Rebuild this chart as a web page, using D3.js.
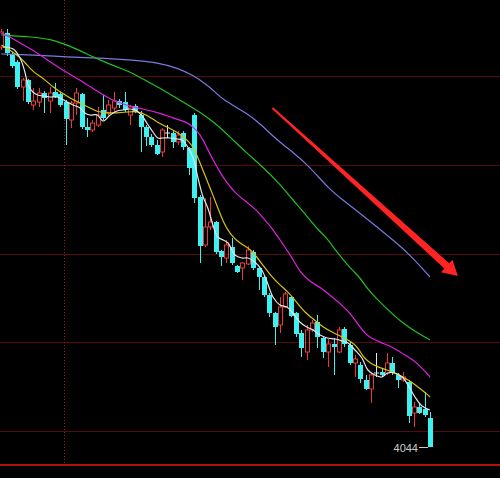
<!DOCTYPE html>
<html><head><meta charset="utf-8">
<script src="https://cdn.jsdelivr.net/npm/d3@7/dist/d3.min.js"></script>
<style>html,body{margin:0;padding:0;background:#000;}svg{display:block;}</style>
</head><body>
<svg id="c" width="500" height="478"></svg>
<script>
// ---- data (prices) ----
const opens  = [4444,4458,4437,4429,4404,4411,4386,4389,4398,4390,4399,4397,4389,4371,4388,4397,4364,4361,4366,4381,4378,4383,4390,4389,4376,4385,4376,4364,4354,4346,4339,4358,4358,4349,4358,4343,4376,4294,4246,4264,4269,4240,4233,4244,4225,4223,4227,4239,4223,4214,4196,4178,4166,4184,4194,4178,4158,4139,4161,4169,4153,4139,4147,4139,4162,4146,4128,4126,4111,4102,4118,4119,4118,4128,4116,4111,4109,4078,4084,4082,4073];
const closes = [4459,4438,4425,4404,4411,4389,4390,4398,4393,4398,4394,4386,4372,4388,4398,4364,4361,4368,4376,4373,4386,4390,4386,4381,4384,4379,4364,4354,4346,4337,4361,4358,4349,4356,4344,4323,4293,4245,4264,4269,4239,4234,4246,4228,4219,4228,4241,4223,4214,4196,4178,4164,4184,4197,4175,4157,4143,4161,4168,4154,4139,4147,4144,4161,4147,4128,4132,4112,4102,4116,4118,4116,4128,4118,4111,4114,4075,4084,4078,4076,4044];
const highs  = [4462,4462,4439,4431,4413,4412,4403,4403,4400,4404,4408,4399,4391,4390,4403,4398,4373,4371,4384,4396,4391,4399,4392,4399,4386,4387,4380,4366,4357,4351,4363,4366,4360,4360,4360,4344,4378,4296,4293,4294,4270,4241,4251,4253,4226,4229,4245,4241,4225,4216,4198,4179,4194,4199,4195,4179,4161,4166,4171,4176,4154,4152,4153,4164,4164,4149,4136,4129,4116,4118,4138,4123,4138,4134,4118,4119,4111,4089,4088,4099,4079];
const lows   = [4441,4435,4423,4402,4390,4387,4381,4384,4378,4378,4393,4384,4346,4363,4376,4362,4354,4359,4364,4371,4376,4379,4383,4379,4366,4378,4339,4345,4344,4336,4334,4353,4343,4346,4341,4316,4288,4228,4244,4261,4237,4225,4228,4226,4218,4211,4226,4221,4201,4194,4174,4146,4158,4183,4174,4154,4134,4131,4159,4143,4133,4124,4116,4138,4144,4126,4114,4108,4101,4088,4114,4114,4116,4116,4103,4109,4068,4064,4077,4074,4044];

// moving averages: [bar index, price]
const ma5 = [[0.3,4444],[2.2,4442],[3.5,4433],[4.4,4419],[5.0,4406],[5.9,4399],[6.8,4396],[7.8,4395],[9.1,4394],[10.4,4394],[11.3,4392],[12.3,4389],[13.4,4386],[14.7,4383],[15.6,4378],[16.5,4376],[17.9,4376],[19.0,4370],[20.3,4376],[21.6,4380],[22.7,4381],[24.0,4382],[25.3,4380],[26.4,4374],[27.4,4366],[28.3,4359],[29.2,4353],[30.2,4353],[31.5,4353],[32.8,4352],[33.7,4351],[34.8,4344],[35.8,4333],[36.7,4313],[37.6,4295],[38.6,4282],[39.5,4266],[40.4,4254],[41.4,4251],[42.3,4248],[43.6,4236],[44.9,4233],[46.0,4233],[47.3,4229],[48.6,4221],[49.6,4209],[50.7,4194],[52.0,4186],[53.3,4184],[54.4,4178],[55.7,4169],[57.0,4164],[58.2,4161],[59.5,4156],[60.8,4153],[62.3,4152],[63.6,4150],[64.7,4148],[66.0,4141],[67.3,4133],[68.4,4121],[69.7,4116],[71.0,4114],[72.1,4118],[73.4,4118],[74.8,4114],[75.9,4106],[77.2,4094],[78.5,4085],[80,4081]];
const ma10 = [[0,4446],[1.6,4441],[2.9,4436],[4.4,4429],[5.9,4419],[7.8,4413],[9.6,4404],[11.3,4398],[12.8,4393],[14.7,4388],[16.5,4383],[18,4379],[19.7,4378],[21.6,4378],[23.5,4379],[25.3,4380],[27.2,4376],[29,4369],[30.9,4364],[32.8,4359],[34.3,4353],[35.6,4346],[36.5,4336],[37.6,4321],[38.9,4304],[40.2,4286],[41.4,4269],[42.7,4257],[44,4250],[45.1,4246],[46.4,4242],[47.7,4234],[48.8,4226],[50.5,4214],[52,4206],[53.5,4199],[54.8,4191],[56.7,4178],[58.5,4171],[60,4164],[61.7,4159],[63.6,4154],[65.4,4149],[66.5,4144],[67.5,4134],[68.8,4128],[70.3,4124],[72,4121],[73.4,4118],[75,4114],[76.6,4109],[77.7,4104],[79,4099],[80,4094]];
const ma20 = [[0,4458],[1.6,4454],[3.5,4448],[5.9,4441],[9.1,4429],[12.3,4418],[14.7,4411],[18.4,4398],[20.3,4392],[22.1,4388],[24.6,4384],[27.2,4381],[29.6,4378],[32,4373],[34.6,4369],[35.8,4364],[37.1,4357],[38.4,4343],[39.5,4331],[40.8,4319],[42.1,4308],[44,4296],[45.8,4289],[47.7,4281],[49.6,4268],[50.5,4263],[52.4,4248],[54.2,4234],[55.7,4219],[57.6,4209],[59.8,4203],[61.7,4194],[63.6,4186],[65.4,4176],[66.9,4164],[68.4,4154],[71,4148],[73.4,4143],[75.9,4134],[77.7,4128],[80,4114]];
const ma60 = [[0,4456],[5.9,4454],[9.1,4452],[12.3,4446],[15.2,4439],[18.4,4431],[21.6,4424],[24.6,4418],[27.7,4408],[30.9,4399],[33.9,4389],[37.1,4379],[39.9,4368],[42.7,4354],[45.8,4338],[48.8,4324],[52,4307],[54.4,4291],[56.1,4281],[59.1,4261],[60.8,4253],[62.3,4241],[65.4,4221],[66.9,4214],[68.4,4201],[71.6,4184],[74.8,4168],[77.7,4158],[80,4151]];
const ma120 = [[0,4437],[5.9,4436],[12.3,4434],[18.4,4433],[24.6,4431],[29.6,4428],[32.8,4423],[35.8,4416],[38.4,4406],[39.9,4399],[41.4,4391],[45.8,4378],[48.6,4366],[51.4,4351],[54.4,4339],[57.6,4324],[60.8,4304],[63.7,4291],[66.9,4278],[70.1,4264],[73.1,4251],[76.3,4236],[80,4214]];

const gridPrices = [4060, 4148.75, 4237.5, 4326.25, 4415];
const vGridIndex = [11.7];
const lowLabel = "4044";
const arrowFrom = [50.6, 4383];
const arrowTo = [85.2, 4215];

// ---- scales ----
const W = 500, H = 478;
const x = d3.scaleLinear().domain([0, 80]).range([1.3, 430]);
const y = d3.scaleLinear().domain([4026, 4491]).range([465, 0]);

const svg = d3.select("#c");
svg.append("rect").attr("width", W).attr("height", H).attr("fill", "#000");

// grid
svg.append("g").selectAll("line").data(gridPrices).join("line")
  .attr("x1", 0).attr("x2", W)
  .attr("y1", d => Math.round(y(d)) + 0.5).attr("y2", d => Math.round(y(d)) + 0.5)
  .attr("stroke", "#560b0b").attr("stroke-width", 1);
svg.append("g").selectAll("line").data(vGridIndex).join("line")
  .attr("x1", d => Math.round(x(d)) + 0.5).attr("x2", d => Math.round(x(d)) + 0.5)
  .attr("y1", 0).attr("y2", y(4026))
  .attr("stroke", "#8a2020").attr("stroke-width", 1).attr("stroke-dasharray", "1,2");
svg.append("line").attr("x1", 0).attr("x2", W)
  .attr("y1", y(4026)).attr("y2", y(4026))
  .attr("stroke", "#b01212").attr("stroke-width", 2);

// candles
const bars = opens.map((o, i) => ({ i, o, c: closes[i], h: highs[i], l: lows[i] }));
const UP = "#e83a3a", DOWN = "#3ef0f0", DOJI = "#e8e8e8";
const gC = svg.append("g");
bars.forEach(b => {
  const cx = Math.round(x(b.i)) + 0.5;
  const top = y(Math.max(b.o, b.c)), bot = y(Math.min(b.o, b.c));
  if (b.o === b.c) {
    gC.append("line").attr("x1", cx).attr("x2", cx).attr("y1", y(b.h)).attr("y2", y(b.l)).attr("stroke", DOJI);
    gC.append("line").attr("x1", cx - 2.5).attr("x2", cx + 2.5).attr("y1", top).attr("y2", top).attr("stroke", DOJI);
  } else if (b.c > b.o) {
    gC.append("line").attr("x1", cx).attr("x2", cx).attr("y1", y(b.h)).attr("y2", top).attr("stroke", UP);
    gC.append("line").attr("x1", cx).attr("x2", cx).attr("y1", bot).attr("y2", y(b.l)).attr("stroke", UP);
    gC.append("rect").attr("x", cx - 2).attr("y", top).attr("width", 4).attr("height", Math.max(1, bot - top))
      .attr("fill", "none").attr("stroke", UP).attr("stroke-width", 1);
  } else {
    gC.append("line").attr("x1", cx).attr("x2", cx).attr("y1", y(b.h)).attr("y2", y(b.l)).attr("stroke", DOWN);
    gC.append("rect").attr("x", cx - 2.5).attr("y", top).attr("width", 5).attr("height", Math.max(1, bot - top))
      .attr("fill", DOWN);
  }
});

// moving averages
const lineSmooth = d3.line().x(d => x(d[0])).y(d => y(d[1])).curve(d3.curveBasis);
const lineFast = d3.line().x(d => x(d[0])).y(d => y(d[1])).curve(d3.curveCatmullRom.alpha(0.5));
const mas = [
  { d: ma120, c: "#7a7ae0", f: lineSmooth },
  { d: ma60, c: "#22c022", f: lineSmooth },
  { d: ma20, c: "#e020e0", f: lineSmooth },
  { d: ma10, c: "#d8c40c", f: lineSmooth },
  { d: ma5, c: "#e6e6e6", f: lineFast }
];
svg.append("g").selectAll("path").data(mas).join("path")
  .attr("d", m => m.f(m.d)).attr("fill", "none")
  .attr("stroke", m => m.c).attr("stroke-width", 1.2);

// low label
const lx = x(80), ly = y(4044);
svg.append("line").attr("x1", lx - 11).attr("x2", lx - 2).attr("y1", ly + 0.5).attr("y2", ly + 0.5)
  .attr("stroke", "#c8c8c8").attr("stroke-width", 1);
svg.append("text").attr("x", lx - 12).attr("y", ly + 4.5).attr("text-anchor", "end")
  .attr("fill", "#cccccc").attr("font-family", "Liberation Sans, Arial, sans-serif").attr("font-size", 11)
  .text(lowLabel);

// red arrow annotation
(function () {
  const x0 = x(arrowFrom[0]), y0 = y(arrowFrom[1]);
  const x1 = x(arrowTo[0]), y1 = y(arrowTo[1]);
  const dx = x1 - x0, dy = y1 - y0, L = Math.hypot(dx, dy);
  const ux = dx / L, uy = dy / L, px = -uy, py = ux;
  const headLen = 15, headHalf = 8.5, w0 = 1.0, w1 = 3.6;
  const bx = x1 - ux * headLen, by = y1 - uy * headLen;
  const pts = [
    [x0 + px * w0, y0 + py * w0],
    [bx + px * w1, by + py * w1],
    [bx + px * headHalf, by + py * headHalf],
    [x1, y1],
    [bx - px * headHalf, by - py * headHalf],
    [bx - px * w1, by - py * w1],
    [x0 - px * w0, y0 - py * w0]
  ];
  svg.append("path").attr("d", "M" + pts.map(p => p.join(",")).join("L") + "Z").attr("fill", "#ff2424");
})();
</script>
</body></html>
